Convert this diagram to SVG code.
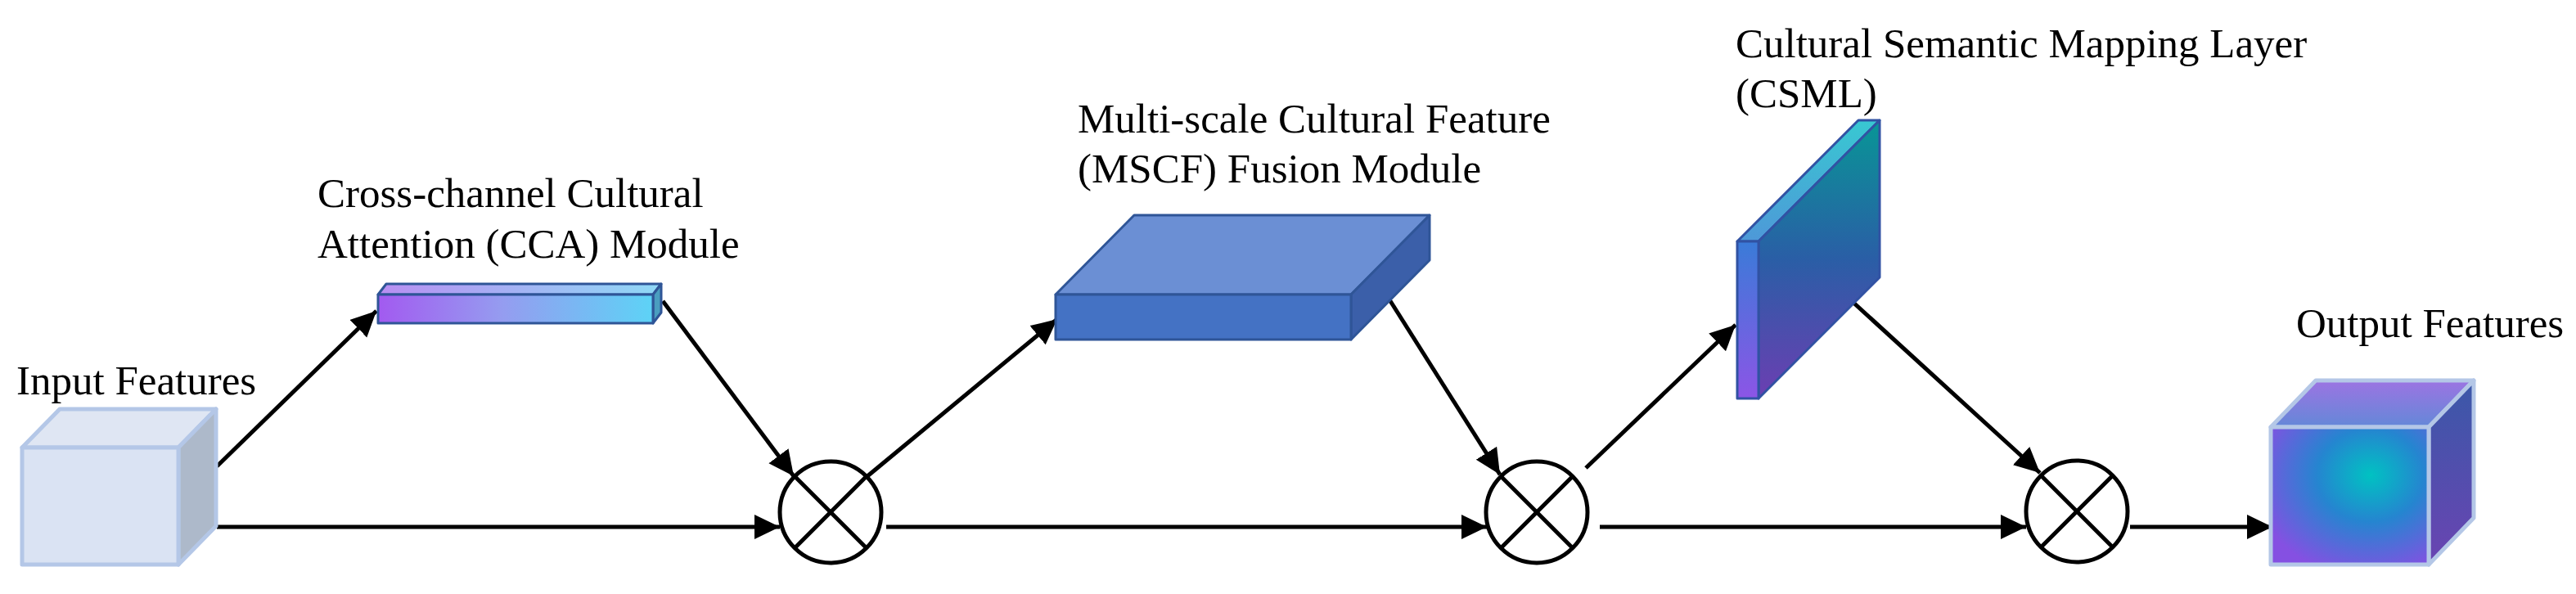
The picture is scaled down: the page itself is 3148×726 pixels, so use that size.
<svg xmlns="http://www.w3.org/2000/svg" width="3148" height="726" viewBox="0 0 3148 726">
<style>
text{font-family:"Liberation Serif","Times New Roman",serif;font-size:51px;fill:#000}
.conn line{stroke:#000;stroke-width:5;fill:none}
.mul circle{fill:none;stroke:#000;stroke-width:5}
.mul line{stroke:#000;stroke-width:5}
.lite{stroke:#b4c7e7;stroke-width:5;stroke-linejoin:round}
.dark{stroke:#2f5597;stroke-width:3;stroke-linejoin:round}
.csml{stroke:#3152a3;stroke-width:3;stroke-linejoin:round}
</style>
<defs>
<marker id="ah" markerUnits="userSpaceOnUse" markerWidth="32" markerHeight="32" refX="31" refY="15" orient="auto">
<path d="M0,0 L31,15 L0,30 z" fill="#000"/>
</marker>
<linearGradient id="ccaFront" x1="0" y1="0" x2="1" y2="0">
<stop offset="0" stop-color="#a25af0"/><stop offset="0.45" stop-color="#959cf0"/><stop offset="1" stop-color="#5dd3f6"/>
</linearGradient>
<linearGradient id="ccaTop" x1="0" y1="0" x2="1" y2="0">
<stop offset="0" stop-color="#b98ef2"/><stop offset="1" stop-color="#8fd9f6"/>
</linearGradient>
<linearGradient id="csFront" x1="0" y1="0" x2="0" y2="1">
<stop offset="0" stop-color="#3a7bd8"/><stop offset="1" stop-color="#8c55e6"/>
</linearGradient>
<linearGradient id="csTop" x1="0" y1="1" x2="0" y2="0">
<stop offset="0" stop-color="#4e98d8"/><stop offset="1" stop-color="#38c8d2"/>
</linearGradient>
<linearGradient id="csSide" x1="0" y1="0" x2="0" y2="1">
<stop offset="0" stop-color="#089696"/><stop offset="0.5" stop-color="#2a5ea6"/><stop offset="1" stop-color="#6c3eb2"/>
</linearGradient>
<radialGradient id="outFront" cx="0.63" cy="0.35" r="0.75">
<stop offset="0" stop-color="#00c2c2"/><stop offset="0.45" stop-color="#2585d0"/><stop offset="1" stop-color="#8550e2"/>
</radialGradient>
<linearGradient id="outTop" x1="0" y1="0" x2="0" y2="1">
<stop offset="0" stop-color="#9c74e2"/><stop offset="1" stop-color="#6488d8"/>
</linearGradient>
<linearGradient id="outRight" x1="0" y1="0" x2="0" y2="1">
<stop offset="0" stop-color="#3a58a8"/><stop offset="1" stop-color="#6a44b2"/>
</linearGradient>
</defs>

<g id="connectors" class="conn">
<line x1="265" y1="570" x2="460" y2="380" marker-end="url(#ah)"/>
<line x1="265" y1="644" x2="953" y2="644" marker-end="url(#ah)"/>
<line x1="810" y1="368" x2="970" y2="582" marker-end="url(#ah)"/>
<line x1="1060" y1="582" x2="1292" y2="390" marker-end="url(#ah)"/>
<line x1="1083" y1="644" x2="1817" y2="644" marker-end="url(#ah)"/>
<line x1="1689" y1="352" x2="1833" y2="580" marker-end="url(#ah)"/>
<line x1="1938" y1="572" x2="2121" y2="397" marker-end="url(#ah)"/>
<line x1="1955" y1="644" x2="2476" y2="644" marker-end="url(#ah)"/>
<line x1="2240" y1="347" x2="2493" y2="578" marker-end="url(#ah)"/>
<line x1="2603" y1="644" x2="2777" y2="644" marker-end="url(#ah)"/>
</g>

<g id="input-features">
<polygon class="lite" points="27,547 73,500 264,500 218,547" fill="#dfe6f3"/>
<polygon class="lite" points="218,547 264,500 264,643 218,690" fill="#adb9ca"/>
<rect class="lite" x="27" y="547" width="191" height="143" fill="#dae3f3"/>
<text x="20" y="482">Input Features</text>
</g>

<g id="cca-module">
<polygon class="dark" points="462,360 472,347 808,347 798,360" fill="url(#ccaTop)"/>
<polygon class="dark" points="798,360 808,347 808,382 798,395" fill="#4a9ec0"/>
<rect class="dark" x="462" y="360" width="336" height="35" fill="url(#ccaFront)"/>
<text x="388" y="253">Cross-channel Cultural</text>
<text x="388" y="315">Attention (CCA) Module</text>
</g>

<g id="mul-1" class="mul">
<circle cx="1015" cy="626" r="62"/>
<line x1="971" y1="582" x2="1059" y2="670"/>
<line x1="971" y1="670" x2="1059" y2="582"/>
</g>

<g id="mscf-module">
<polygon class="dark" points="1290,360 1386,263 1747,263 1651,360" fill="#6b8fd4"/>
<polygon class="dark" points="1651,360 1747,263 1747,318 1651,415" fill="#3b5fa9"/>
<rect class="dark" x="1290" y="360" width="361" height="55" fill="#4472c4"/>
<text x="1317" y="162">Multi-scale Cultural Feature</text>
<text x="1317" y="223">(MSCF) Fusion Module</text>
</g>

<g id="mul-2" class="mul">
<circle cx="1878" cy="626" r="62"/>
<line x1="1834" y1="582" x2="1922" y2="670"/>
<line x1="1834" y1="670" x2="1922" y2="582"/>
</g>

<g id="csml-layer">
<polygon class="csml" points="2123,295 2271,147 2297,147 2149,295" fill="url(#csTop)"/>
<polygon class="csml" points="2149,295 2297,147 2297,339 2149,487" fill="url(#csSide)"/>
<rect class="csml" x="2123" y="295" width="26" height="192" fill="url(#csFront)"/>
<text x="2121" y="70">Cultural Semantic Mapping Layer</text>
<text x="2121" y="131">(CSML)</text>
</g>

<g id="mul-3" class="mul">
<circle cx="2538" cy="625" r="62"/>
<line x1="2494" y1="581" x2="2582" y2="669"/>
<line x1="2494" y1="669" x2="2582" y2="581"/>
</g>

<g id="output-features">
<polygon class="lite" points="2775,522 2830,465 3023,465 2968,522" fill="url(#outTop)"/>
<polygon class="lite" points="2968,522 3023,465 3023,633 2968,690" fill="url(#outRight)"/>
<rect class="lite" x="2775" y="522" width="193" height="168" fill="url(#outFront)"/>
<text x="2806" y="412">Output Features</text>
</g>
</svg>
